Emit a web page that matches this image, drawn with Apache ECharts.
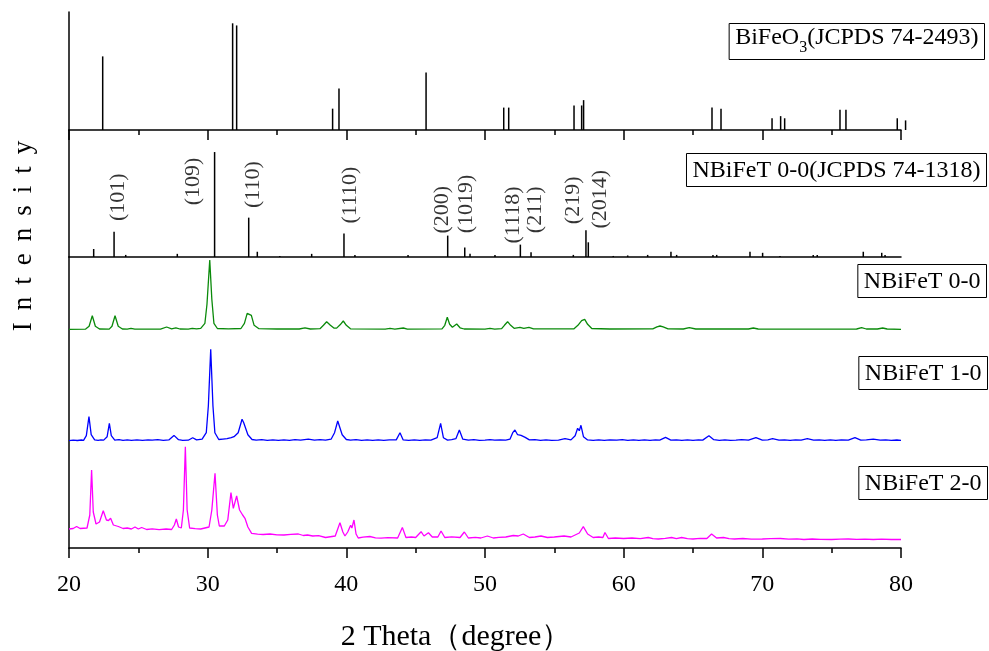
<!DOCTYPE html>
<html><head><meta charset="utf-8">
<script src="https://cdn.jsdelivr.net/npm/echarts@6/dist/echarts.min.js"></script>
<style>html,body{margin:0;padding:0;background:#fff}#c{width:989px;height:651px}</style>
</head><body><div id="c"></div>
<script>
// ---- x axis ----
const xMin = 20, xMax = 80, xStep = 10;

// ---- BiFeO3 reference (JCPDS 74-2493): 2theta, relative intensity ----
const bifeo3Pos = [22.43, 31.80, 32.09, 39.01, 39.47, 45.75, 51.35, 51.71, 56.42, 56.97, 57.11, 66.37, 67.02, 70.70, 71.32, 71.61, 75.60, 76.03, 79.73, 80.33];
const bifeo3Int = [69, 100, 98, 20, 39, 54, 21, 21, 23, 23, 28, 21, 20, 11, 13, 11, 19, 19, 11, 9];

// ---- NBiFeT 0-0 reference (JCPDS 74-1318) ----
const refPos = [21.78, 23.25, 24.09, 27.81, 30.50, 32.96, 33.58, 35.20, 37.50, 39.83, 40.62, 44.45, 47.31, 48.54, 48.92, 50.72, 52.55, 53.32, 56.37, 57.28, 57.45, 59.25, 60.29, 61.73, 63.41, 63.82, 66.44, 66.71, 69.11, 70.02, 71.27, 73.67, 73.96, 77.28, 78.61, 78.85];
const refInt = [7.6, 24, 2, 3, 100, 37.5, 5, 1, 3, 22.3, 2, 2, 20.4, 9, 3, 2, 11.8, 4.5, 2, 25.4, 14, 1, 1.5, 2, 5, 2, 2, 2, 5, 4, 1, 2, 2, 5, 4, 2];

// ---- Miller indices labels ----
const hklText = ['(101)', '(109)', '(110)', '(1110)', '(200)', '(1019)', '(1118)', '(211)', '(219)', '(2014)'];
const hklPos  = [23.55, 28.96, 33.29, 40.26, 46.88, 48.63, 52.04, 53.60, 56.37, 58.29];
const hklY    = [57, 72, 69, 59, 45, 50.5, 40, 45, 54, 55];

// ---- measured patterns: [2theta, intensity (a.u.)] ----
const nbf00 = [[20,0],[21.2,2],[21.45,30],[21.68,136],[21.9,30],[22.2,3],
[22.9,2],[23.1,30],[23.32,136],[23.55,30],[23.85,3],
[24.2,2],[24.47,10],[24.75,2],
[26.6,2],[27.04,23],[27.4,5],[27.71,15],[28.0,3],
[28.6,2],[28.89,10],[29.2,4],
[29.5,10],[29.8,60],[29.95,250],[30.15,693],[30.3,300],[30.45,60],[30.7,8],
[31.5,4],[32.4,8],[32.65,60],[32.85,160],[33.0,150],[33.15,140],[33.35,40],[33.7,6],
[35,3],[36.6,3],[37.02,15],[37.4,3],
[38.1,6],[38.35,40],[38.58,76],[38.85,40],[39.1,12],[39.3,12],[39.55,45],[39.78,83],[40.0,40],[40.3,5],
[42.8,2],[43.15,10],[43.5,2],[44.11,13],[44.4,2],
[46.9,4],[47.1,40],[47.28,120],[47.45,50],[47.65,20],[47.96,53],[48.2,15],[48.5,3],
[50.0,2],[50.36,10],[50.7,2],
[51.2,6],[51.4,40],[51.63,76],[51.85,40],[52.1,10],[52.52,20],[52.8,10],[53.17,20],[53.5,4],
[56.4,4],[56.7,40],[56.97,86],[57.07,80],[57.19,100],[57.4,50],[57.7,8],
[59,3],[62.1,5],[62.4,25],[62.62,33],[62.85,25],[63.2,5],
[64.3,3],[64.73,17],[65.2,3],
[69.0,3],[69.35,13],[69.7,3],
[72,2],[76.8,3],[77.16,17],[77.5,3],[78.3,3],[78.68,13],[79.0,3],[80,0]];

const nbf10 = [[20,0],[20.3,6],[20.6,2],[20.9,7],[21.05,4],[21.25,50],[21.44,240],[21.6,60],[21.85,8],[22.1,4],[22.3,9],
[22.5,6],[22.75,40],[22.91,174],[23.05,50],[23.3,6],[23.6,10],[23.9,3],[24.2,8],
[24.5,4],[24.9,9],[25.3,3],[25.7,8],[26,5],[26.4,10],[26.8,4],[27.2,8],[27.57,53],[27.9,10],[28.2,4],
[28.6,5],[28.92,30],[29.2,8],
[29.6,15],[29.9,80],[30.05,350],[30.22,914],[30.38,350],[30.52,80],[30.8,12],[31.1,16],
[31.4,20],[31.7,30],[31.9,40],[32.2,80],[32.48,214],[32.6,180],[32.72,170],[32.9,60],[33.2,12],[33.5,6],
[33.9,11],[34.3,4],[34.7,9],[35.1,3],[35.5,8],[35.9,4],[36.3,10],[36.7,6],[37.26,15],[37.7,6],[38.1,10],[38.5,5],
[38.9,15],[39.15,80],[39.38,197],[39.52,180],[39.7,60],[40.0,12],[40.3,6],[40.7,10],
[41.1,4],[41.5,8],[41.9,3],[42.3,9],[42.7,4],[43.1,8],[43.6,8],[43.87,80],[44.1,8],[44.5,4],[44.9,9],
[45.3,4],[45.7,8],[46.1,5],[46.55,30],[46.8,174],[47.0,30],[47.3,6],[47.6,10],
[47.9,20],[48.15,107],[48.4,15],[48.8,5],[49.2,10],[49.6,4],
[50.0,5],[50.36,10],[50.7,5],[51.1,9],[51.5,6],
[51.8,15],[52.0,80],[52.16,107],[52.35,60],[52.6,53],[52.9,33],[53.2,8],[53.6,10],[54.0,4],[54.4,9],[54.8,3],
[55.3,6],[55.77,20],[56.2,8],[56.5,50],[56.68,124],[56.8,100],[56.92,154],[57.1,40],[57.4,8],
[57.8,4],[58.2,9],[58.6,3],[59.0,8],[59.5,6],[59.9,10],[60.3,4],[60.7,9],[61.1,3],[61.5,8],[61.9,4],[62.3,9],[62.6,6],[63.02,33],[63.4,6],
[63.8,9],[64.2,3],[64.6,8],[65.0,4],[65.4,9],[65.7,6],[66.15,50],[66.5,10],[66.9,4],[67.3,9],[67.7,3],[68.1,5],[68.5,10],[69.0,5],[69.54,30],[70.0,5],[70.4,9],[70.74,20],[71.2,5],
[71.6,9],[72.0,3],[72.4,8],[72.8,5],[73.24,20],[73.7,5],[74.1,9],[74.5,3],[74.9,8],[75.3,4],[75.7,9],[76.2,5],[76.68,30],[77.1,5],[77.5,9],[78.0,15],[78.5,5],[78.9,9],[79.3,3],[79.7,7],[80,3]];

const nbf20 = [[20,110],[20.3,115],[20.55,135],[20.8,115],[21.3,120],[21.5,250],[21.63,700],[21.75,280],[21.95,160],
[22.2,180],[22.47,293],[22.7,200],[22.85,195],[23.0,217],[23.2,150],[23.56,135],[23.9,115],
[24.2,120],[24.5,110],[24.76,130],[25.0,110],[25.24,125],[25.6,105],[26.0,112],[26.5,104],[27.0,110],
[27.4,105],[27.6,150],[27.74,210],[27.9,130],[28.1,120],[28.25,300],[28.39,933],[28.52,300],[28.7,120],
[29.1,114],[29.5,110],[30.1,130],[30.3,300],[30.53,667],[30.7,250],[30.84,140],[31.2,140],[31.45,200],[31.68,473],[31.85,317],[32.09,440],[32.3,300],[32.52,250],[32.69,217],[32.9,130],[33.17,67],
[33.6,58],[34,55],[34.5,60],[35.0,52],[35.5,50],[36.0,56],[36.54,60],[36.9,45],[37.2,50],[37.58,40],[38.0,44],[38.5,25],[39.2,40],[39.54,173],[39.75,80],[39.9,40],[40.1,80],[40.31,147],[40.4,120],[40.55,200],[40.7,60],[40.86,20],[41.2,28],[41.7,35],[42.1,22],[42.5,18],[43.0,24],
[43.7,20],[44.04,126],[44.3,25],[44.7,30],[45,25],[45.39,83],[45.6,40],[45.92,73],[46.2,30],[46.6,30],[46.83,90],[47.1,25],[47.6,32],
[48.2,25],[48.51,80],[48.8,20],[49.3,26],[49.7,20],[50.17,40],[50.6,20],[51.0,26],[51.5,30],[52.04,45],[52.4,40],[52.76,60],[53.2,25],[53.6,30],[54.04,40],[54.5,25],[55.0,30],[55.7,40],[56.2,30],[56.8,70],[57.09,133],[57.4,60],[57.8,25],[58.2,30],[58.5,25],[58.65,75],[58.9,15],
[59.4,20],[60,15],[60.6,20],[61.2,14],[61.77,25],[62.1,14],[62.5,10],[63.0,16],[63.46,25],[63.8,14],[64.18,25],[64.6,14],[65,10],[65.5,16],[66.0,15],[66.34,60],[66.7,20],[67.2,25],[67.6,14],[68,10],[68.6,15],[69.2,9],[70,10],[70.6,14],[71.3,15],[71.9,8],[72.5,11],[73,5],[73.6,10],[74.2,6],[75,5],[75.6,9],[76.2,10],[76.8,6],[77.4,9],[78,5],[78.6,9],[79.3,5],[80,5]];

const sampleNames = ['NBiFeT 0-0', 'NBiFeT 1-0', 'NBiFeT 2-0'];
const sampleColors = ['#0a8a0a', '#0000ff', '#ff00ff'];
const offsets = [2187, 1073, 80];

const chart = echarts.init(document.getElementById('c'), null, {renderer: 'canvas'});
const FF = 'Liberation Serif, Times New Roman, serif';
const axisLineStyle = {color: '#000', width: 1.5};

function xAxisCfg(idx, opts) {
  return Object.assign({
    type: 'value', gridIndex: idx, min: xMin, max: xMax, interval: xStep,
    axisLine: {show: true, onZero: false, lineStyle: axisLineStyle},
    axisTick: {show: false},
    minorTick: {show: false},
    axisLabel: {show: false},
    splitLine: {show: false}
  }, opts);
}
function yAxisCfg(idx, max) {
  return {
    type: 'value', gridIndex: idx, min: 0, max: max,
    axisLine: {show: true, onZero: false, lineStyle: axisLineStyle},
    axisTick: {show: false}, axisLabel: {show: false}, splitLine: {show: false}
  };
}
const tickOpts = {
  axisTick: {show: true, inside: false, length: 10, lineStyle: {color: '#000', width: 1.5}},
  minorTick: {show: true, splitNumber: 2, length: 5, lineStyle: {color: '#000', width: 1.5}}
};

const series = [
  {type: 'bar', xAxisIndex: 0, yAxisIndex: 0, barWidth: 1.5, clip: false, silent: true,
   itemStyle: {color: '#000'}, data: bifeo3Pos.map((x, i) => [x, bifeo3Int[i]])},
  {type: 'bar', xAxisIndex: 1, yAxisIndex: 1, barWidth: 1.5, clip: false, silent: true,
   itemStyle: {color: '#000'}, data: refPos.map((x, i) => [x, refInt[i]])},
  {type: 'scatter', xAxisIndex: 1, yAxisIndex: 1, symbolSize: 1, silent: true,
   itemStyle: {color: 'rgba(0,0,0,0)'},
   label: {show: true, position: 'inside', rotate: 90, formatter: p => p.data.name,
           fontFamily: FF, fontSize: 22, color: '#000'},
   data: hklText.map((t, i) => ({name: t, value: [hklPos[i], hklY[i]]}))}
];
[nbf00, nbf10, nbf20].forEach((d, i) => {
  series.push({
    type: 'line', name: sampleNames[i], xAxisIndex: 2, yAxisIndex: 2,
    showSymbol: false, silent: true,
    lineStyle: {color: sampleColors[i], width: 1.3},
    data: d.map(p => [p[0], p[1] + offsets[i]])
  });
});

function boxText(rightPx, topPx, text) {
  return {
    type: 'text', right: rightPx, top: topPx, silent: true,
    style: {
      text: text, font: '24px ' + FF, fill: '#000',
      borderColor: '#000', borderWidth: 1, padding: [5, 6, 4, 6]
    }
  };
}

// y-axis title with wide letter spacing (each glyph its own rich token)
const yTitle = 'Intensity';
const yTitleRich = yTitle.split('').map(ch => '{l|' + ch + '}').join('');

chart.setOption({
  animation: false,
  backgroundColor: '#fff',
  grid: [
    {left: 69, top: 12, width: 832, height: 118},
    {left: 69, top: 130, width: 832, height: 127},
    {left: 69, top: 257, width: 832, height: 291}
  ],
  xAxis: [
    xAxisCfg(0, tickOpts),
    xAxisCfg(1, {}),
    xAxisCfg(2, Object.assign({
      axisLabel: {show: true, color: '#000', fontFamily: FF, fontSize: 24, margin: 25}
    }, tickOpts))
  ],
  yAxis: [yAxisCfg(0, 110.6), yAxisCfg(1, 121), yAxisCfg(2, 2910)],
  series: series,
  graphic: [
    {type: 'text', right: 4, top: 23, silent: true,
     style: {
       text: '{a|BiFeO}{s|3}{a|(JCPDS 74-2493)}',
       rich: {a: {fontFamily: FF, fontSize: 24, lineHeight: 28, verticalAlign: 'bottom', padding: [0,0,6,0]},
              s: {fontFamily: FF, fontSize: 16, lineHeight: 16, verticalAlign: 'bottom'}},
       fill: '#000', borderColor: '#000', borderWidth: 1, padding: [4, 6, 4, 6]
     }},
    boxText(2, 153, 'NBiFeT 0-0(JCPDS 74-1318)'),
    boxText(2, 264, sampleNames[0]),
    boxText(1, 356, sampleNames[1]),
    boxText(1, 466, sampleNames[2]),
    {type: 'text', x: 24, y: 236, rotation: Math.PI / 2, silent: true,
     style: {text: yTitleRich,
             rich: {l: {fontFamily: FF, fontSize: 27, padding: [0, 6, 0, 6]}},
             fill: '#000',
             align: 'center', verticalAlign: 'middle', textAlign: 'center', textVerticalAlign: 'middle'}},
    {type: 'text', x: 456, y: 637, silent: true,
     style: {text: '2 Theta（degree）', font: '30px ' + FF, fill: '#000',
             align: 'center', verticalAlign: 'middle', textAlign: 'center', textVerticalAlign: 'middle'}}
  ]
});
</script></body></html>
